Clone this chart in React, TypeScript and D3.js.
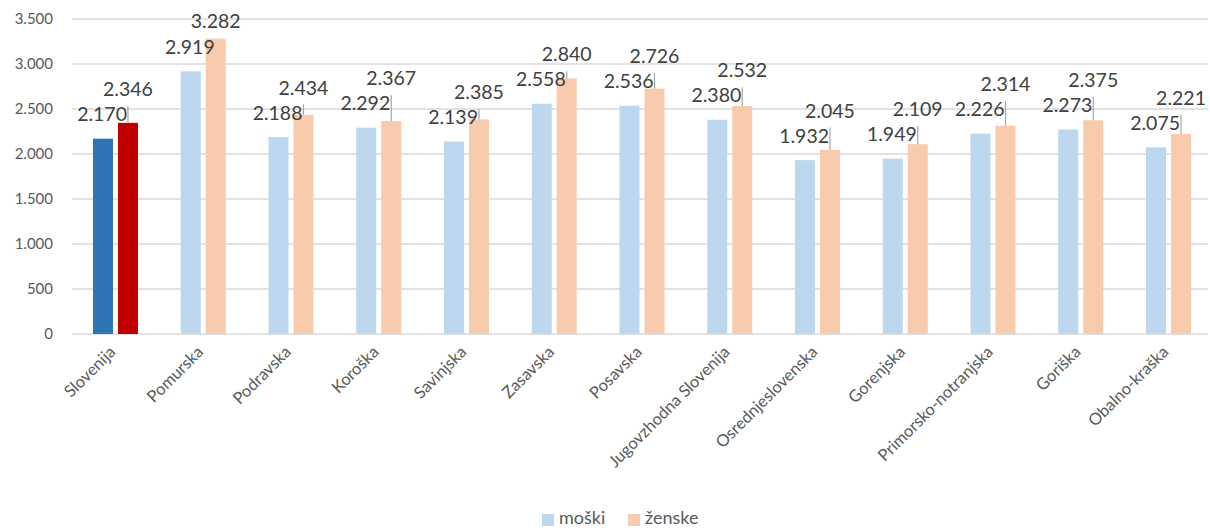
import React from "react";
import * as d3 from "d3";

const categories = [
  "Slovenija", "Pomurska", "Podravska", "Koroška", "Savinjska", "Zasavska", "Posavska",
  "Jugovzhodna Slovenija", "Osrednjeslovenska", "Gorenjska", "Primorsko-notranjska", "Goriška", "Obalno-kraška",
];
const moski = [2170, 2919, 2188, 2292, 2139, 2558, 2536, 2380, 1932, 1949, 2226, 2273, 2075];
const zenske = [2346, 3282, 2434, 2367, 2385, 2840, 2726, 2532, 2045, 2109, 2314, 2375, 2221];
const yTicks = [0, 500, 1000, 1500, 2000, 2500, 3000, 3500];
const seriesNames = ["moški", "ženske"];

const W = 1210, H = 528;
const FONT = "Lato, 'Noto Sans', sans-serif";

const loc = d3.formatLocale({ decimal: ",", thousands: ".", grouping: [3], currency: ["", "€"] });
const fmt = loc.format(",");

export default function App() {
  const x = d3.scaleBand<string>().domain(categories).range([71.6, 1212.4]).padding(0);
  const y = d3.scaleLinear().domain([0, 3500]).range([334, 19]);
  const barW = 20, gap = 5;

  const colM = (i: number) => (i === 0 ? "#2e75b6" : "#bdd7ee");
  const colZ = (i: number) => (i === 0 ? "#c00000" : "#f8cbad");

  return (
    <svg width={W} height={H} style={{ position: "absolute", left: 0, top: 0, background: "#fff" }} fontFamily={FONT}>
      {yTicks.map((t) => (
        <g key={t}>
          <line x1={72} x2={1208} y1={y(t)} y2={y(t)} stroke="#d9d9d9" strokeWidth={1.5} />
          <text x={53} y={y(t)} dy="0.35em" textAnchor="end" fontSize={15} fill="#595959">{fmt(t)}</text>
        </g>
      ))}
      {categories.map((c, i) => {
        const cx = (x(c) as number) + x.bandwidth() / 2;
        const mx = cx - gap / 2 - barW;
        const zx = cx + gap / 2;
        const zc = zx + barW / 2;
        const mTop = y(moski[i]);
        const zTop = y(zenske[i]);
        const mBase = mTop - 17.5;
        const zBase = Math.max(28, Math.min(zTop - 16, mBase - 25));
        const leadStart = zBase + 10;
        return (
          <g key={c}>
            <rect x={mx} y={mTop} width={barW} height={y(0) - mTop} fill={colM(i)} />
            <rect x={zx} y={zTop} width={barW} height={y(0) - zTop} fill={colZ(i)} />
            {zTop - leadStart > 3 && (
              <line x1={zc} x2={zc} y1={leadStart} y2={zTop} stroke="#a6a6a6" strokeWidth={1.2} />
            )}
            <text x={zc - 1} y={mBase} textAnchor="end" fontSize={19.5} fill="#404040">{fmt(moski[i])}</text>
            <text x={zc} y={zBase} textAnchor="middle" fontSize={19.5} fill="#404040">{fmt(zenske[i])}</text>
            <text
              transform={`translate(${cx + 1},${353}) rotate(-45)`}
              textAnchor="end"
              fontSize={16.5}
              fill="#595959"
            >{c}</text>
          </g>
        );
      })}
      <g>
        <rect x={542} y={514} width={12} height={12} fill="#bdd7ee" />
        <text x={559} y={524} fontSize={18} fill="#595959">{seriesNames[0]}</text>
        <rect x={628} y={514} width={12} height={12} fill="#f8cbad" />
        <text x={645} y={524} fontSize={18} fill="#595959">{seriesNames[1]}</text>
      </g>
    </svg>
  );
}
